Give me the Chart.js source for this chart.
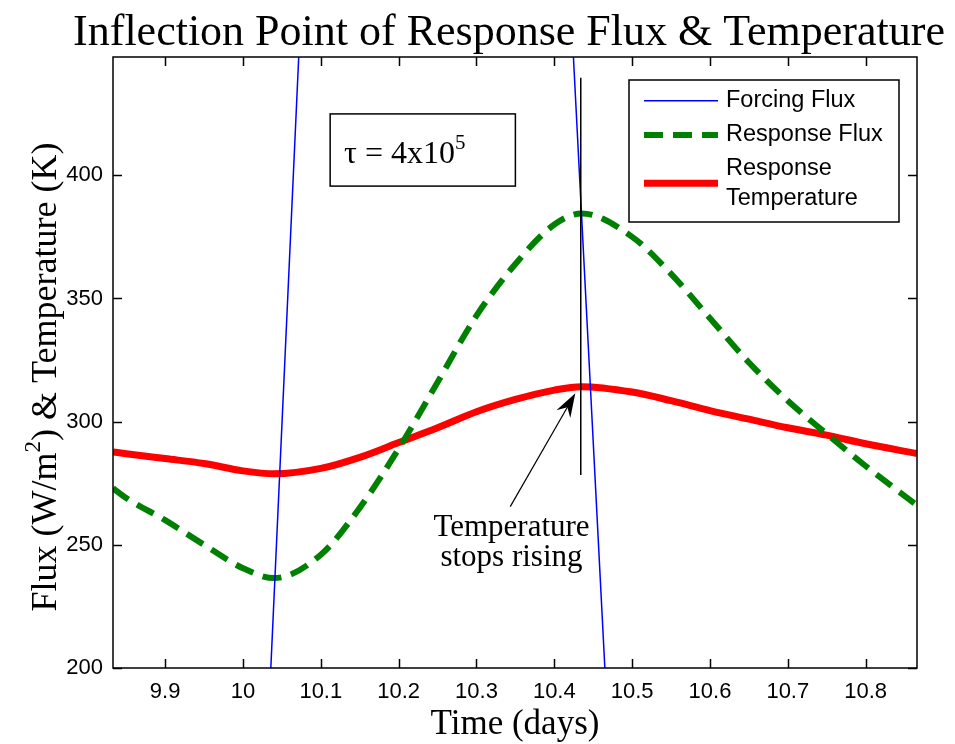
<!DOCTYPE html>
<html>
<head>
<meta charset="utf-8">
<title>Inflection Point of Response Flux &amp; Temperature</title>
<script src="https://cdn.jsdelivr.net/npm/chart.js@4.4.1/dist/chart.umd.min.js"></script>
<style>
    html, body { margin: 0; padding: 0; background: #fff; }
    #wrap { width: 955px; height: 744px; }
</style>
</head>
<body>
<div id="wrap"><canvas id="fluxChart" width="955" height="744"></canvas></div>
<script>
// Axis ticks
const xTicks = [9.9, 10.0, 10.1, 10.2, 10.3, 10.4, 10.5, 10.6, 10.7, 10.8];
const xTickLabels = ["9.9", "10", "10.1", "10.2", "10.3", "10.4", "10.5", "10.6", "10.7", "10.8"];
const yTicks = [200, 250, 300, 350, 400];
const yTickLabels = ["200", "250", "300", "350", "400"];

// Forcing flux (only the steep flanks are visible)
const forcingDays = [10.030, 10.080, 10.250, 10.420, 10.470];
const forcingFlux = [160, 506, 1100, 476, 169];

// Response flux (dashed green)
const fluxDays = [9.833, 9.85, 9.90, 9.95, 10.00, 10.04, 10.10, 10.15, 10.20, 10.25, 10.30, 10.35, 10.40, 10.435, 10.50, 10.55, 10.60, 10.65, 10.70, 10.75, 10.80, 10.866];
const fluxValues = [273, 269, 260, 250, 240.5, 236.5, 246, 265, 289, 316, 343, 364, 380, 384.5, 375, 360, 342, 324, 308.5, 295, 282, 266];

// Response temperature (red)
const tempDays = [9.833, 9.85, 9.90, 9.95, 10.00, 10.04, 10.10, 10.15, 10.20, 10.25, 10.30, 10.35, 10.40, 10.435, 10.50, 10.55, 10.60, 10.65, 10.70, 10.75, 10.80, 10.866];
const tempValues = [287.7, 287, 285, 283, 280, 278.8, 281, 285.5, 291.5, 297.5, 304, 309, 312.8, 314.2, 312, 308.5, 304.5, 301, 297.5, 294.5, 291, 287];

// Vertical marker at the temperature peak
const markerDays = [10.434, 10.434];
const markerValues = [439.6, 278.3];

const toPoints = (xs, ys) => xs.map((v, i) => ({ x: v, y: ys[i] }));

const serif = '"Liberation Serif", "Times New Roman", serif';
const sans = '"Liberation Sans", Arial, sans-serif';

// text with one superscript part: parts = [[text, isSup], ...]
function drawSupText(ctx, parts, cx, baseY, size) {
    let total = 0;
    parts.forEach(p => {
        ctx.font = (p[1] ? Math.round(size * 0.65) : size) + "px " + serif;
        total += ctx.measureText(p[0]).width;
    });
    let px = cx - total / 2;
    parts.forEach(p => {
        ctx.font = (p[1] ? Math.round(size * 0.65) : size) + "px " + serif;
        ctx.fillText(p[0], px, p[1] ? baseY - size * 0.45 : baseY);
        px += ctx.measureText(p[0]).width;
    });
}

const decorations = {
    id: "decorations",
    afterDraw(chart) {
        const { ctx, chartArea: a } = chart;
        const x = chart.scales.x, y = chart.scales.y;
        ctx.save();

        // axes box and inward ticks
        ctx.strokeStyle = "#000";
        ctx.lineWidth = 1.5;
        ctx.strokeRect(a.left, a.top, a.right - a.left, a.bottom - a.top);
        ctx.beginPath();
        x.ticks.forEach(t => {
            const px = Math.round(x.getPixelForValue(t.value)) + 0.5;
            ctx.moveTo(px, a.bottom); ctx.lineTo(px, a.bottom - 9);
            ctx.moveTo(px, a.top); ctx.lineTo(px, a.top + 9);
        });
        y.ticks.forEach(t => {
            const py = Math.round(y.getPixelForValue(t.value)) + 0.5;
            ctx.moveTo(a.left, py); ctx.lineTo(a.left + 9, py);
            ctx.moveTo(a.right, py); ctx.lineTo(a.right - 9, py);
        });
        ctx.stroke();

        // title and axis titles
        ctx.fillStyle = "#000";
        ctx.textAlign = "center";
        ctx.textBaseline = "alphabetic";
        ctx.font = "44px " + serif;
        ctx.fillText("Inflection Point of Response Flux & Temperature", 509, 45);
        ctx.font = "35px " + serif;
        ctx.fillText("Time (days)", (a.left + a.right) / 2, 734);

        ctx.save();
        ctx.translate(56, 377);
        ctx.rotate(-Math.PI / 2);
        ctx.textAlign = "left";
        drawSupText(ctx, [["Flux (W/m", false], ["2", true], [") & Temperature (K)", false]], 0, 0, 36);
        ctx.restore();

        // tau box
        const bx0 = x.getPixelForValue(10.112), bx1 = x.getPixelForValue(10.350);
        const by0 = y.getPixelForValue(424.9), by1 = y.getPixelForValue(395.6);
        ctx.fillStyle = "#fff";
        ctx.fillRect(bx0, by0, bx1 - bx0, by1 - by0);
        ctx.strokeStyle = "#000";
        ctx.lineWidth = 1.5;
        ctx.strokeRect(bx0, by0, bx1 - bx0, by1 - by0);
        ctx.fillStyle = "#000";
        ctx.textAlign = "left";
        drawSupText(ctx, [["\u03c4 = 4x10", false], ["5", true]], (bx0 + bx1) / 2 - 18, by0 + 49, 32);

        // arrow pointing at the temperature peak
        const tx = x.getPixelForValue(10.3434), ty = y.getPixelForValue(265.5);
        const hx = x.getPixelForValue(10.427), hy = y.getPixelForValue(311.5);
        const ang = Math.atan2(hy - ty, hx - tx);
        ctx.strokeStyle = "#000";
        ctx.lineWidth = 1.2;
        ctx.beginPath();
        ctx.moveTo(tx, ty);
        ctx.lineTo(hx - 14 * Math.cos(ang), hy - 14 * Math.sin(ang));
        ctx.stroke();
        ctx.beginPath();
        ctx.moveTo(hx, hy);
        ctx.lineTo(hx - 24 * Math.cos(ang) + 8 * Math.sin(ang), hy - 24 * Math.sin(ang) - 8 * Math.cos(ang));
        ctx.lineTo(hx - 16 * Math.cos(ang), hy - 16 * Math.sin(ang));
        ctx.lineTo(hx - 24 * Math.cos(ang) - 8 * Math.sin(ang), hy - 24 * Math.sin(ang) + 8 * Math.cos(ang));
        ctx.closePath();
        ctx.fill();

        ctx.textAlign = "center";
        ctx.font = "31px " + serif;
        const lx = x.getPixelForValue(10.345);
        ctx.fillText("Temperature", lx, y.getPixelForValue(253.5));
        ctx.fillText("stops rising", lx, y.getPixelForValue(241.3));

        // legend
        const lw = 270, lh = 142;
        const lx0 = a.right - 18 - lw, ly0 = a.top + 23;
        ctx.fillStyle = "#fff";
        ctx.fillRect(lx0, ly0, lw, lh);
        ctx.strokeStyle = "#000";
        ctx.lineWidth = 1.5;
        ctx.strokeRect(lx0, ly0, lw, lh);
        const rows = [20.7, 55, 103.3];
        const entries = chart.data.datasets.filter(d => d.inLegend);
        ctx.textAlign = "left";
        ctx.textBaseline = "middle";
        ctx.font = "23.5px " + sans;
        entries.forEach((d, i) => {
            const ry = ly0 + rows[i];
            ctx.strokeStyle = d.borderColor;
            ctx.lineWidth = d.borderWidth;
            ctx.setLineDash(d.borderDash || []);
            ctx.beginPath();
            ctx.moveTo(lx0 + 15, ry);
            ctx.lineTo(lx0 + 89, ry);
            ctx.stroke();
            ctx.setLineDash([]);
            ctx.fillStyle = "#000";
            const lines = d.label.split("\n");
            lines.forEach((t, k) => {
                ctx.fillText(t, lx0 + 97, ry + (k - (lines.length - 1) / 2) * 29.5);
            });
        });

        ctx.restore();
    }
};

new Chart(document.getElementById("fluxChart"), {
    type: "line",
    data: {
        datasets: [
            {
                label: "marker",
                data: toPoints(markerDays, markerValues),
                borderColor: "#000",
                borderWidth: 1.5,
                pointRadius: 0,
                order: 0
            },
            {
                label: "Forcing Flux",
                inLegend: true,
                data: toPoints(forcingDays, forcingFlux),
                borderColor: "#0000ff",
                borderWidth: 1.5,
                pointRadius: 0,
                order: 1
            },
            {
                label: "Response Flux",
                inLegend: true,
                data: toPoints(fluxDays, fluxValues),
                borderColor: "#008000",
                borderWidth: 6,
                borderDash: [19, 10],
                cubicInterpolationMode: "monotone",
                pointRadius: 0,
                order: 2
            },
            {
                label: "Response\nTemperature",
                inLegend: true,
                data: toPoints(tempDays, tempValues),
                borderColor: "#ff0000",
                borderWidth: 7,
                cubicInterpolationMode: "monotone",
                pointRadius: 0,
                order: 3
            }
        ]
    },
    options: {
        responsive: false,
        animation: false,
        devicePixelRatio: 1,
        clip: 0,
        layout: { padding: { top: 57, right: 38, bottom: 0, left: 0 } },
        plugins: { legend: { display: false }, tooltip: { enabled: false } },
        scales: {
            x: {
                type: "linear",
                min: 9.833,
                max: 10.866,
                afterBuildTicks: s => { s.ticks = xTicks.map(v => ({ value: v })); },
                afterFit: s => { s.height = 76; },
                grid: { display: false, drawTicks: false },
                border: { display: false },
                ticks: {
                    padding: 11,
                    color: "#000",
                    font: { family: sans, size: 22 },
                    maxRotation: 0,
                    callback: (v) => xTickLabels[xTicks.findIndex(t => Math.abs(t - v) < 1e-6)]
                }
            },
            y: {
                min: 200,
                max: 448,
                afterBuildTicks: s => { s.ticks = yTicks.map(v => ({ value: v })); },
                afterFit: s => { s.width = 113; },
                grid: { display: false, drawTicks: false },
                border: { display: false },
                ticks: {
                    padding: 10,
                    color: "#000",
                    font: { family: sans, size: 22 },
                    callback: (v) => yTickLabels[yTicks.indexOf(v)]
                }
            }
        }
    },
    plugins: [decorations]
});
</script>
</body>
</html>
